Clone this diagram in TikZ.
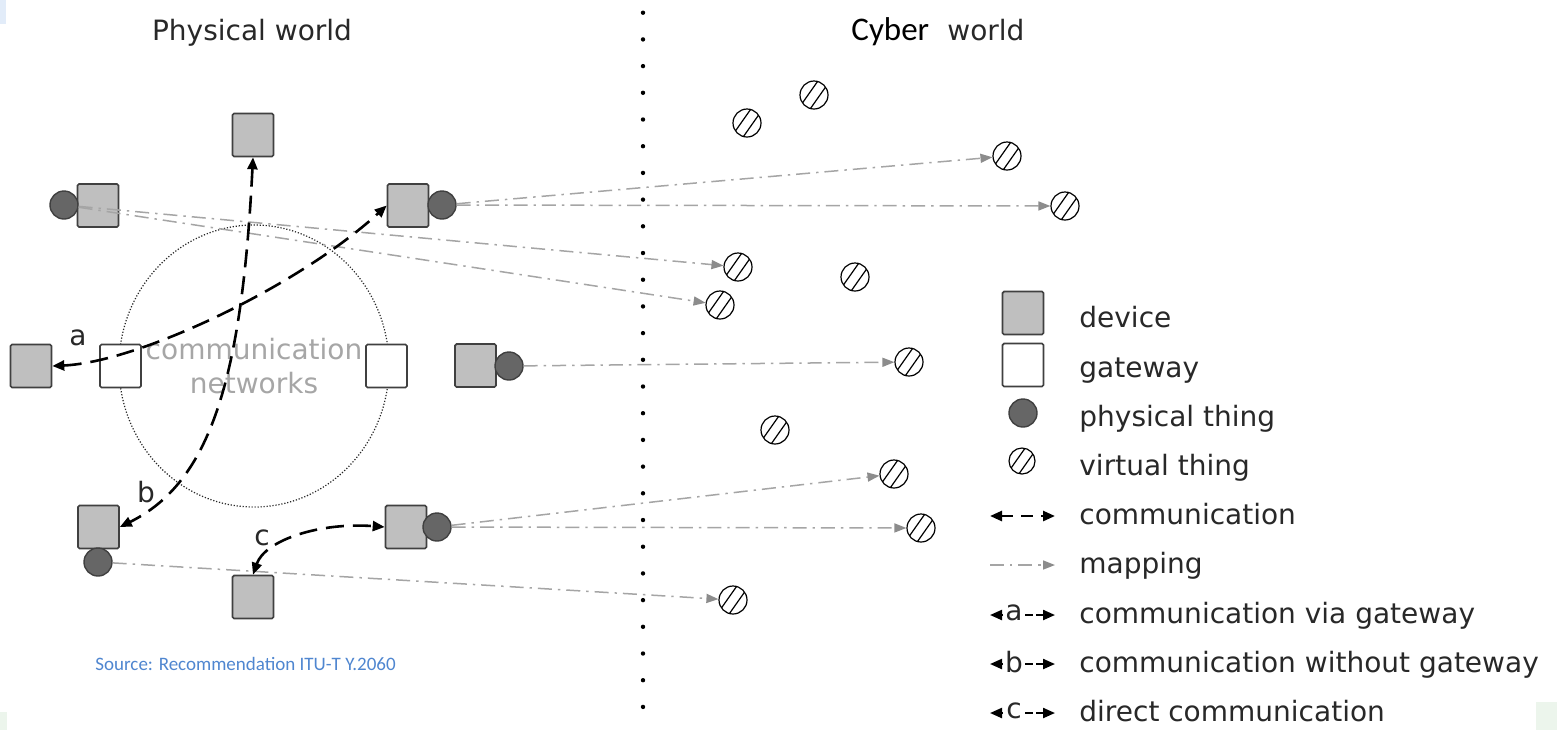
\documentclass[tikz,border=0pt]{standalone}
\usepackage{fontspec}
\setmainfont{DejaVu Sans}
\newfontfamily\calibrifont{Carlito}
\usetikzlibrary{arrows.meta}

\definecolor{devfill}{RGB}{191,191,191}
\definecolor{edgegray}{RGB}{64,64,64}
\definecolor{thingfill}{RGB}{102,102,102}
\definecolor{mapgray}{RGB}{165,165,165}
\definecolor{maphead}{RGB}{140,140,140}
\definecolor{netgray}{RGB}{166,166,166}
\definecolor{txtcol}{RGB}{40,40,40}
\definecolor{srcblue}{RGB}{79,134,208}
\definecolor{tintblue}{RGB}{226,236,249}
\definecolor{tintgreen}{RGB}{236,245,236}

\tikzset{
  device/.style={draw=edgegray, fill=devfill, line width=0.8pt, rounded corners=0.8pt,
    minimum width=20.5pt, minimum height=21.5pt, inner sep=0pt},
  gatewaybox/.style={device, fill=white},
  physthing/.style={circle, draw=edgegray, fill=thingfill, line width=0.7pt,
    minimum size=14pt, inner sep=0pt},
  virtthing/.style={circle, draw=black, fill=white, line width=0.6pt,
    minimum size=14pt, inner sep=0pt,
    path picture={
      \draw[line width=0.6pt]
        ([xshift=-4.9pt,yshift=-11.2pt]path picture bounding box.center) --
        ([xshift=8.9pt,yshift=8.4pt]path picture bounding box.center);
      \draw[line width=0.6pt]
        ([xshift=-8.9pt,yshift=-8.4pt]path picture bounding box.center) --
        ([xshift=4.9pt,yshift=11.2pt]path picture bounding box.center);
    }},
  tipc/.tip={Triangle[length=6pt,width=5pt]},
  comm/.style={black, line width=1.3pt, dash pattern=on 9pt off 4.5pt, tipc-tipc},
  mapline/.style={mapgray, line width=0.75pt,
    dash pattern=on 7pt off 3pt on 1.2pt off 3pt,
    -{Triangle[length=6pt,width=4.5pt,color=maphead,fill=maphead]}},
  lbl/.style={font=\fontsize{14}{16}\selectfont, text=txtcol, inner sep=0pt},
  legtxt/.style={lbl, anchor=base west},
}

\begin{document}
\begin{tikzpicture}[x=0.5pt, y=-0.5pt]
\useasboundingbox (0,0) rectangle (1557,730);
\fill[white] (0,0) rectangle (1557,730);
% faint slide tints in the corners
\fill[tintblue] (0,0) rectangle (6,24);
\fill[tintgreen] (1536,702) rectangle (1557,730);
\fill[tintgreen] (0,712) rectangle (7,730);

% titles
\node[lbl, anchor=base] (phys) at (252,40) {Physical world};
\node[anchor=base west, inner sep=0pt, font=\calibrifont\fontsize{16.5}{18}\selectfont] (cyb) at (851,40) {Cyber};
\node[lbl, anchor=base west] (cybw) at (947,40) {world};

% dotted border between the two worlds
\foreach \k in {0,...,26}
  \fill (643,12.7+26.7*\k) circle (1.1pt);

% communication networks cloud
\draw[black!85, line width=0.6pt, dash pattern=on 0.6pt off 0.9pt]
  (254,366) ellipse [x radius=67.5pt, y radius=70.5pt];
\node[align=center, text=netgray, inner sep=0pt, font=\fontsize{14}{17}\selectfont] (net) at (254,366) {communication\\networks};

% devices and gateways
\node[device] (dtop) at (253,135) {};
\node[device] (dtl) at (98,205.5) {};
\node[physthing] (ptl) at (64,205) {};
\node[device] (dtr) at (408,205.5) {};
\node[physthing] (ptr) at (442,205) {};
\node[device] (dl) at (31,366) {};
\node[gatewaybox] (gl) at (120.5,366) {};
\node[gatewaybox] (gr) at (386.5,366) {};
\node[device] (dm) at (475.5,365.5) {};
\node[physthing] (pm) at (509,366) {};
\node[device] (dbl) at (98.5,527) {};
\node[physthing] (pbl) at (98,562) {};
\node[device] (dlr) at (406,527) {};
\node[physthing] (plr) at (437,527) {};
\node[device] (dc) at (253,597) {};

% virtual things
\node[virtthing] (v1) at (747,123) {};
\node[virtthing] (v2) at (814,95) {};
\node[virtthing] (v3) at (1007,156) {};
\node[virtthing] (v4) at (1065,206) {};
\node[virtthing] (v5) at (738,267) {};
\node[virtthing] (v6) at (855,277) {};
\node[virtthing] (v7) at (720,305) {};
\node[virtthing] (v8) at (909,362) {};
\node[virtthing] (v9) at (775,430) {};
\node[virtthing] (v10) at (894,474) {};
\node[virtthing] (v11) at (921,528) {};
\node[virtthing] (v12) at (733,600) {};

% mappings from physical things to virtual things
\draw[mapline] (ptl) -- (v5);
\draw[mapline] (ptl) -- (v7);
\draw[mapline] (ptr) -- (v3);
\draw[mapline] (ptr) -- (v4);
\draw[mapline] (pm) -- (v8);
\draw[mapline] (plr) -- (v10);
\draw[mapline] (plr) -- (v11);
\draw[mapline] (pbl) -- (v12);

% communication paths
\draw[comm] (dl.east) .. controls (140,362) and (300,285) .. (dtr.west);
\draw[comm] (dtop.south) .. controls (242,377) and (211,482) .. (dbl.east);
\draw[comm] (dc.north) .. controls (265,540) and (320,522) .. (dlr.west);
\node[lbl] (la) at (78,338) {a};
\node[lbl] (lb) at (146,492) {b};
\node[lbl] (lc) at (262,538) {c};

% source note
\node[anchor=base west, inner sep=0pt, text=srcblue, font=\calibrifont\fontsize{9.5}{11}\selectfont] (src) at (95,670) {Source: Recommendation ITU-T Y.2060};

% legend
\node[device] (kdev) at (1023,313) {};
\node[legtxt] (tdev) at (1079,327) {device};
\node[gatewaybox] (kgw) at (1023,365) {};
\node[legtxt] (tgw) at (1079,377) {gateway};
\node[physthing] (kpt) at (1023,413) {};
\node[legtxt] (tpt) at (1079,426) {physical thing};
\node[virtthing, minimum size=13pt] (kvt) at (1022,461) {};
\node[legtxt] (tvt) at (1079,475) {virtual thing};

\coordinate (kc1) at (990,516);
\coordinate (kc2) at (1055,516);
\draw[comm, dash pattern=on 6pt off 4pt] (kc1) -- (kc2);
\node[legtxt] (tcomm) at (1079,524) {communication};

\coordinate (km1) at (990,565);
\coordinate (km2) at (1055,565);
\draw[mapline] (km1) -- (km2);
\node[legtxt] (tmap) at (1079,573) {mapping};

\foreach \ltr/\yy/\txt in {a/615/communication via gateway, b/664/communication without gateway, c/713/direct communication}{
  \coordinate (kl\ltr) at (990,\yy);
  \coordinate (kls\ltr) at (1003,\yy);
  \coordinate (krs\ltr) at (1025,\yy);
  \coordinate (kr\ltr) at (1055,\yy);
  \draw[black, line width=1.1pt, -tipc] (kls\ltr) -- (kl\ltr);
  \draw[black, line width=1.1pt, dash pattern=on 4pt off 1.5pt, -tipc] (krs\ltr) -- (kr\ltr);
  \node[lbl] (kk\ltr) at (1014,\yy-2) {\ltr};
  \node[legtxt] (tk\ltr) at (1079,\yy+8) {\txt};
}
\end{tikzpicture}
\end{document}
